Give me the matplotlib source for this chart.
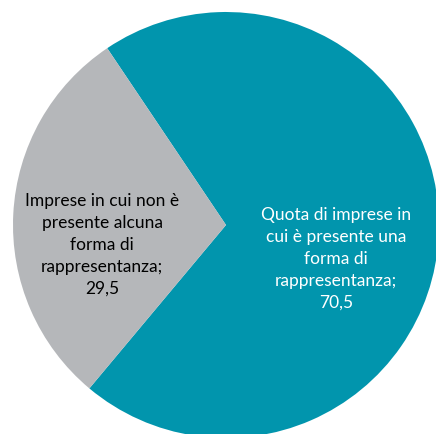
import matplotlib.pyplot as plt

# quota di imprese per presenza di rappresentanza (%)
labels = [
    "Quota di imprese in\ncui è presente una\nforma di\nrappresentanza;",
    "Imprese in cui non è\npresente alcuna\nforma di\nrappresentanza;",
]
values = [70.5, 29.5]
colors = ["#0195ad", "#b5b7ba"]
text_colors = ["white", "black"]

W, H = 436, 435
fig = plt.figure(figsize=(W / 100, H / 100), dpi=100)
ax = fig.add_axes([0, 0, 1, 1])

cx, cy, r = 226, H - 226, 213
gray_span = values[1] / sum(values) * 360
start = 177 + gray_span / 2

ax.pie(
    values,
    colors=colors,
    startangle=start,
    counterclock=True,
    center=(cx, cy),
    radius=r,
    frame=True,
    wedgeprops=dict(linewidth=0),
)
ax.set_xlim(0, W)
ax.set_ylim(0, H)
ax.set_aspect("equal")
ax.axis("off")

label_pos = [(336, H - 259), (102, H - 245)]
for lab, v, (x, y), tc in zip(labels, values, label_pos, text_colors):
    txt = lab + "\n" + f"{v:.1f}".replace(".", ",")
    ax.text(x, y, txt, ha="center", va="center", color=tc,
            fontsize=12.5, family="Lato", linespacing=1.45)

fig.savefig("out.png", dpi=100)
